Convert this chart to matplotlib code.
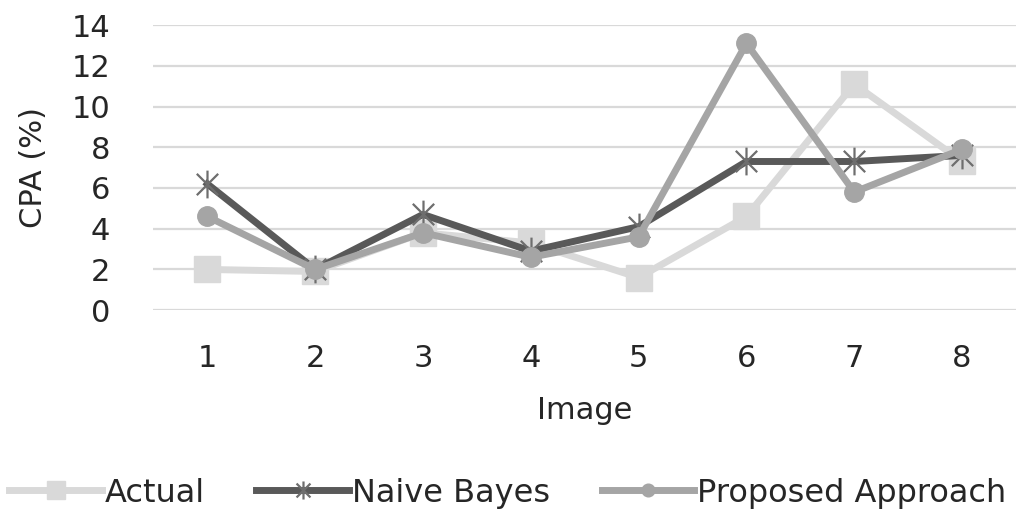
import numpy as np
import matplotlib.pyplot as plt
from matplotlib.path import Path

# CPA per image for the three methods
images = [1, 2, 3, 4, 5, 6, 7, 8]
actual = [2.0, 1.9, 3.8, 3.3, 1.6, 4.6, 11.1, 7.3]
naive_bayes = [6.2, 2.0, 4.7, 2.9, 4.1, 7.3, 7.3, 7.6]
proposed = [4.6, 2.0, 3.8, 2.6, 3.6, 13.1, 5.8, 7.9]
yticks = [0, 2, 4, 6, 8, 10, 12, 14]

plt.rcParams['font.family'] = ['DejaVu Sans']
txt = '#262626'

# Excel style star marker: an x crossed by a vertical bar
star = Path([(-1, -1), (1, 1), (-1, 1), (1, -1), (0, -1.3), (0, 1.3)],
            [Path.MOVETO, Path.LINETO, Path.MOVETO, Path.LINETO,
             Path.MOVETO, Path.LINETO])

fig = plt.figure(figsize=(10.16, 5.11), dpi=100)
ax = fig.add_axes([0.151, 0.393, 0.849, 0.558])

ax.plot(images, actual, color='#d9d9d9', lw=5, marker='s', ms=19,
        label='Actual')
ax.plot(images, naive_bayes, color='#595959', lw=5, marker=star, ms=20,
        mew=1.6, mec='#6e6e6e', label='Naive Bayes')
ax.plot(images, proposed, color='#a5a5a5', lw=5, marker='o', ms=14,
        label='Proposed Approach')

ax.set_xlim(0.5, 8.5)
ax.set_ylim(0, 14)
ax.set_xticks(images)
ax.set_yticks(yticks)
ax.tick_params(length=0, labelsize=22, colors=txt)
ax.tick_params(axis='x', pad=24)
ax.tick_params(axis='y', pad=31)
ax.grid(axis='y', color='#d9d9d9', lw=1.6)
ax.set_axisbelow(True)
for s in ax.spines.values():
    s.set_visible(False)

ax.set_xlabel('Image', fontsize=22, color=txt, labelpad=17)
ax.set_ylabel('CPA (%)', fontsize=22, color=txt, labelpad=17)

fig.legend(loc='center', bbox_to_anchor=(0.5, 0.035), ncol=3,
           frameon=False, fontsize=23, handlelength=2.9, handletextpad=0.1,
           columnspacing=1.6, markerscale=0.65, labelcolor=txt,
           borderaxespad=0)

fig.savefig('out.png', dpi=100)
